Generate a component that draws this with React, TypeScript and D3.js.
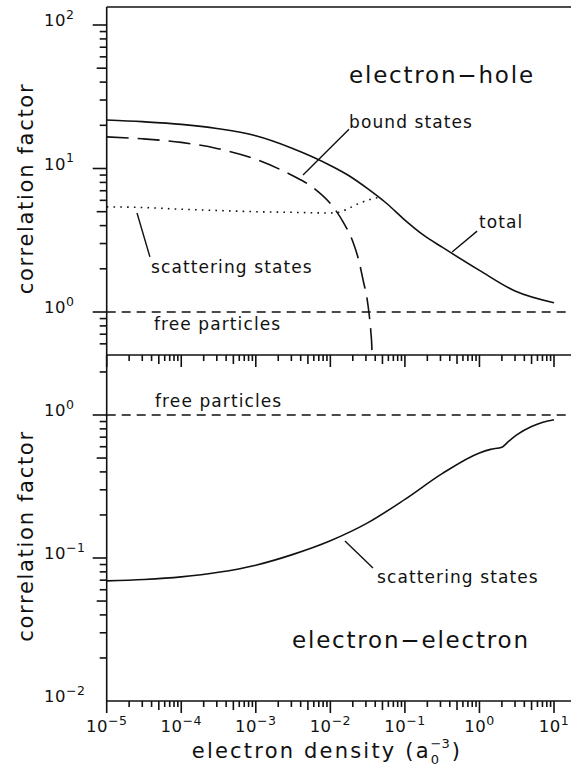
import { useRef, useEffect } from "react";
import * as d3 from "d3";

const W = 571;
const H = 769;
const FONT = "'DejaVu Sans', sans-serif";

// electron density (a0^-3)
const xTickValues = [1e-5, 1e-4, 1e-3, 1e-2, 1e-1, 1, 10];

// electron-hole panel
const totalX = [1e-5, 3e-5, 1e-4, 3e-4, 1e-3, 3e-3, 1e-2, 1.78e-2, 3.16e-2, 5.6e-2, 0.1, 0.178, 0.316, 1, 3, 10];
const totalY = [21.8, 21.2, 20.3, 19.0, 16.9, 13.9, 10.5, 8.9, 7.24, 5.75, 4.37, 3.43, 2.83, 1.95, 1.4, 1.16];

const boundX = [1e-5, 3e-5, 1e-4, 3e-4, 1e-3, 3e-3, 6e-3, 1e-2, 1.5e-2, 2e-2, 2.4e-2, 2.8e-2, 3.1e-2, 3.3e-2, 3.5e-2, 3.6e-2, 3.62e-2];
const boundY = [16.6, 16.1, 15.2, 13.8, 11.6, 9.0, 7.3, 5.7, 4.2, 3.1, 2.3, 1.6, 1.25, 0.98, 0.72, 0.57, 0.5];

const scatterTopX = [1e-5, 3e-5, 1e-4, 3e-4, 1e-3, 3e-3, 1e-2, 1.3e-2, 1.8e-2, 2.5e-2, 3.5e-2, 4.5e-2];
const scatterTopY = [5.4, 5.35, 5.2, 5.1, 5.0, 4.95, 4.9, 4.95, 5.3, 5.75, 6.1, 6.3];

// electron-electron panel
const scatterBotX = [1e-5, 3.16e-5, 1e-4, 3.16e-4, 1e-3, 3.16e-3, 1e-2, 3.16e-2, 0.1, 0.316, 1, 1.41, 2, 2.4, 3.16, 5, 7.1, 10];
const scatterBotY = [0.0692, 0.0708, 0.0738, 0.0794, 0.0891, 0.106, 0.132, 0.176, 0.257, 0.389, 0.543, 0.575, 0.596, 0.646, 0.725, 0.83, 0.89, 0.927];

const freeParticles = 1;

const zip = (xs: number[], ys: number[]) => xs.map((v, i) => ({ x: v, y: ys[i] }));

export default function App() {
  const svgRef = useRef<SVGSVGElement>(null);

  useEffect(() => {
    if (!svgRef.current) return;
    const svg = d3.select(svgRef.current);
    svg.selectAll("*").remove();

    const left = 106.7;
    const right = 571;
    const topY = 7;
    const midY = 355;
    const botY = 701;

    const x = d3.scaleLog().domain([1e-5, 10]).range([left, 554]);
    const yTop = d3.scaleLog().domain([1, 100]).range([312, 25]);
    const yBot = d3.scaleLog().domain([0.01, 1]).range([701, 415]);

    const defs = svg.append("defs");
    defs.append("clipPath").attr("id", "clipTop")
      .append("rect").attr("x", left).attr("y", topY).attr("width", right - left).attr("height", midY - topY);
    defs.append("clipPath").attr("id", "clipBot")
      .append("rect").attr("x", left).attr("y", midY).attr("width", right - left).attr("height", botY - midY);

    const ink = "#111";
    const frame = svg.append("g").attr("stroke", ink).attr("stroke-width", 1.6).attr("fill", "none");
    frame.append("line").attr("x1", left).attr("x2", right).attr("y1", topY).attr("y2", topY);
    frame.append("line").attr("x1", left).attr("x2", right).attr("y1", midY).attr("y2", midY);
    frame.append("line").attr("x1", left).attr("x2", right).attr("y1", botY).attr("y2", botY);
    frame.append("line").attr("x1", left).attr("x2", left).attr("y1", topY).attr("y2", botY);

    const kind = (v: number) => {
      const m = Math.round(v / Math.pow(10, Math.floor(Math.log10(v) + 1e-9)));
      return m === 1 ? 2 : m === 5 ? 1 : 0;
    };

    // x ticks (pointing down) on the divider and on the bottom axis
    const xTicks = d3.scaleLog().domain([1e-5, 10]).ticks();
    const xLen = [6, 9, 12];
    [midY, botY].forEach((yy) => {
      frame.selectAll(null).data(xTicks).enter().append("line")
        .attr("x1", (d) => x(d)).attr("x2", (d) => x(d))
        .attr("y1", yy).attr("y2", (d) => yy + xLen[kind(d)]);
    });

    // y ticks (pointing left)
    const yLen = [7, 10, 14];
    const yTicksTop = d3.scaleLog().domain([yTop.invert(midY), yTop.invert(topY)]).ticks()
      .filter((d) => yTop(d) >= topY - 0.5 && yTop(d) <= midY + 0.5);
    const yTicksBot = d3.scaleLog().domain([yBot.invert(botY), yBot.invert(midY)]).ticks()
      .filter((d) => yBot(d) >= midY + 2 && yBot(d) <= botY + 0.5);
    frame.selectAll(null).data(yTicksTop).enter().append("line")
      .attr("x1", (d) => left - yLen[kind(d)]).attr("x2", left)
      .attr("y1", (d) => yTop(d)).attr("y2", (d) => yTop(d));
    frame.selectAll(null).data(yTicksBot).enter().append("line")
      .attr("x1", (d) => left - yLen[kind(d)]).attr("x2", left)
      .attr("y1", (d) => yBot(d)).attr("y2", (d) => yBot(d));

    const txt = svg.append("g").attr("fill", ink).attr("font-family", FONT);

    const powLabel = (g: any, v: number, px: number, py: number, anchor: string) => {
      const t = g.append("text").attr("x", px).attr("y", py).attr("text-anchor", anchor)
        .attr("font-size", 16.5).attr("letter-spacing", 0.5);
      t.append("tspan").text("10");
      const e = Math.round(Math.log10(v));
      t.append("tspan").attr("dy", -7.5).attr("font-size", 12.5)
        .text(e < 0 ? `\u2212${-e}` : `${e}`);
    };

    xTickValues.forEach((v) => powLabel(txt, v, x(v), 732, "middle"));
    [1, 10, 100].forEach((v) => powLabel(txt, v, 44, yTop(v) + 1, "start"));
    [0.01, 0.1, 1].forEach((v) => powLabel(txt, v, 44, yBot(v) + 1, "start"));

    // axis titles
    const yTitle = (cy: number) => txt.append("text")
      .attr("transform", `translate(33,${cy}) rotate(-90)`)
      .attr("text-anchor", "middle").attr("font-size", 21).attr("letter-spacing", 1.7)
      .text("correlation factor");
    yTitle((yTop(1) + yTop(100)) / 2 + 20);
    yTitle((yBot(0.01) + yBot(1)) / 2 - 22);

    const xt = txt.append("text").attr("x", 327).attr("y", 758).attr("text-anchor", "middle")
      .attr("font-size", 21).attr("letter-spacing", 2.2);
    xt.append("tspan").text("electron density (a");
    xt.append("tspan").attr("font-size", 13).attr("dy", 6).attr("letter-spacing", 0).text("0");
    xt.append("tspan").attr("font-size", 13).attr("dx", -8.5).attr("dy", -16).attr("letter-spacing", 0).text("\u22123");
    xt.append("tspan").attr("dy", 10).attr("dx", 2).text(")");

    // curves
    const lineTop = d3.line<{ x: number; y: number }>()
      .x((d) => x(d.x)).y((d) => yTop(d.y)).curve(d3.curveMonotoneX);
    const lineBot = d3.line<{ x: number; y: number }>()
      .x((d) => x(d.x)).y((d) => yBot(d.y)).curve(d3.curveMonotoneX);

    const gTop = svg.append("g").attr("clip-path", "url(#clipTop)")
      .attr("fill", "none").attr("stroke", ink).attr("stroke-width", 1.6);
    gTop.append("path").attr("d", lineTop(zip(totalX, totalY)));
    gTop.append("path").attr("d", lineTop(zip(boundX, boundY))).attr("stroke-dasharray", "22,9");
    gTop.append("path").attr("d", lineTop(zip(scatterTopX, scatterTopY)))
      .attr("stroke-dasharray", "1.6,5.2").attr("stroke-width", 1.6);
    gTop.append("line").attr("x1", left).attr("x2", right)
      .attr("y1", yTop(freeParticles)).attr("y2", yTop(freeParticles)).attr("stroke-dasharray", "9,6");

    const gBot = svg.append("g").attr("clip-path", "url(#clipBot)")
      .attr("fill", "none").attr("stroke", ink).attr("stroke-width", 1.6);
    gBot.append("path").attr("d", lineBot(zip(scatterBotX, scatterBotY)));
    gBot.append("line").attr("x1", left).attr("x2", right)
      .attr("y1", yBot(freeParticles)).attr("y2", yBot(freeParticles)).attr("stroke-dasharray", "9,6");

    // annotations, positioned in data units
    const leaders = [
      { s: yTop, x1: 1.78e-2, y1: 18.8, x2: 4.3e-3, y2: 9.0 },
      { s: yTop, x1: 0.93, y1: 3.66, x2: 0.43, y2: 2.62 },
      { s: yTop, x1: 2.55e-5, y1: 4.9, x2: 3.8e-5, y2: 2.42 },
      { s: yBot, x1: 1.57e-2, y1: 0.1315, x2: 3.73e-2, y2: 0.0851 },
    ];
    const lg = svg.append("g").attr("stroke", ink).attr("stroke-width", 1.4);
    leaders.forEach((l) => {
      lg.append("line").attr("x1", x(l.x1)).attr("y1", l.s(l.y1)).attr("x2", x(l.x2)).attr("y2", l.s(l.y2));
    });

    const labels = [
      { s: yTop, x: 1.78e-2, y: 19.1, text: "bound states", size: 17, ls: 1.1 },
      { s: yTop, x: 0.986, y: 3.85, text: "total", size: 17, ls: 1.1 },
      { s: yTop, x: 3.93e-5, y: 1.87, text: "scattering states", size: 17, ls: 1.1 },
      { s: yTop, x: 4.3e-5, y: 0.75, text: "free particles", size: 17, ls: 1.1 },
      { s: yTop, x: 1.78e-2, y: 39.4, text: "electron\u2212hole", size: 23, ls: 1.8 },
      { s: yBot, x: 4.45e-5, y: 1.138, text: "free particles", size: 17, ls: 1.1 },
      { s: yBot, x: 4.23e-2, y: 0.0668, text: "scattering states", size: 17, ls: 1.1 },
      { s: yBot, x: 3.06e-3, y: 0.0235, text: "electron\u2212electron", size: 23, ls: 1.8 },
    ];
    labels.forEach((l) => {
      txt.append("text").attr("x", x(l.x)).attr("y", l.s(l.y))
        .attr("font-size", l.size).attr("letter-spacing", l.ls).text(l.text);
    });
  }, []);

  return (
    <svg
      ref={svgRef}
      width={W}
      height={H}
      style={{ position: "absolute", left: 0, top: 0, background: "#fff" }}
    />
  );
}
